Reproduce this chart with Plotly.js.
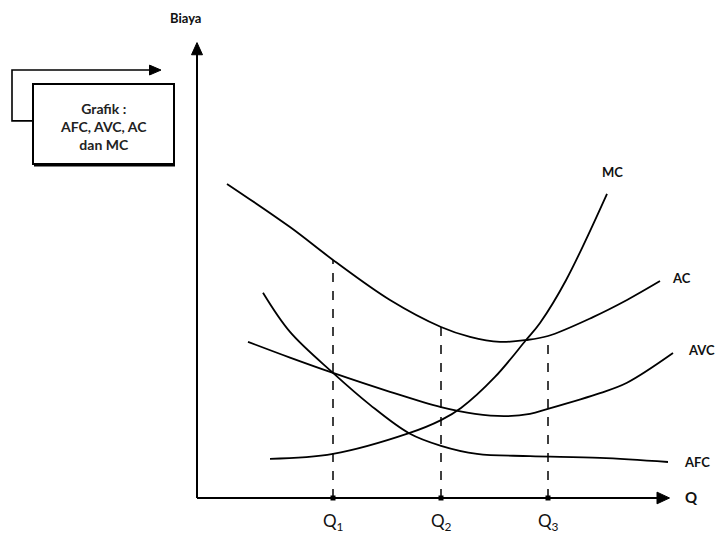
<!DOCTYPE html>
<html>
<head>
<meta charset="utf-8">
<script src="https://cdn.plot.ly/plotly-3.0.1.min.js"></script>
<style>html,body{margin:0;padding:0;background:#fff;}#chart{width:720px;height:533px;}</style>
</head>
<body>
<div id="chart"></div>
<script>
// Quantity (Q) and cost (Biaya) values
const acQ   = [0.60, 1.86, 2.72, 3.86, 4.88, 5.46, 6.06, 6.58, 7.02, 7.92, 8.60, 9.26];
const acC   = [6.98, 6.02, 5.29, 4.40, 3.80, 3.58, 3.47, 3.51, 3.60, 4.02, 4.40, 4.82];
const avcQ  = [1.02, 1.86, 2.72, 3.86, 4.88, 5.56, 6.16, 6.66, 7.02, 8.06, 8.60, 9.52];
const avcC  = [3.47, 3.12, 2.78, 2.36, 2.02, 1.87, 1.82, 1.87, 1.98, 2.33, 2.56, 3.22];
const afcQ  = [1.32, 1.86, 2.72, 3.46, 4.24, 4.88, 5.60, 6.66, 8.06, 9.42];
const afcC  = [4.56, 3.69, 2.78, 2.07, 1.44, 1.16, 0.98, 0.93, 0.89, 0.80];
const mcQ   = [1.46, 2.72, 4.24, 4.88, 5.28, 5.96, 6.58, 6.86, 7.38, 8.20];
const mcC   = [0.87, 0.98, 1.44, 1.73, 2.00, 2.69, 3.51, 3.89, 4.84, 6.76];
const qNames = ["Q<sub>1</sub>", "Q<sub>2</sub>", "Q<sub>3</sub>"];
const qValues = [2.72, 4.88, 7.02];
const qTops   = [5.29, 3.80, 3.60];   // AC height at each marked quantity
const curveNames = ["MC", "AC", "AVC", "AFC"];
const labelQ = [8.30, 9.46, 9.78, 9.70];
const labelC = [7.24, 4.90, 3.30, 0.80];

const FONT = "Lato, 'Open Sans', sans-serif";
const lineStyle = {color: "#000", width: 1.8, shape: "spline", smoothing: 1};

const traces = [
  {x: acQ,  y: acC,  mode: "lines", line: lineStyle, hoverinfo: "skip"},
  {x: avcQ, y: avcC, mode: "lines", line: lineStyle, hoverinfo: "skip"},
  {x: afcQ, y: afcC, mode: "lines", line: lineStyle, hoverinfo: "skip"},
  {x: mcQ,  y: mcC,  mode: "lines", line: lineStyle, hoverinfo: "skip"},
  {x: qValues, y: qValues.map(() => 0), mode: "markers",
   marker: {symbol: "square", size: 5, color: "#000"}, hoverinfo: "skip"}
];

const shapes = [];
qValues.forEach((q, i) => {
  shapes.push({type: "line", xref: "x", yref: "y", x0: q, x1: q, y0: 0, y1: qTops[i],
               line: {color: "#000", width: 1.5, dash: "dash"}});
});
// axes
shapes.push({type: "line", xref: "x", yref: "y", x0: 0, x1: 0, y0: 0, y1: 9.9,
             line: {color: "#000", width: 2}});
shapes.push({type: "line", xref: "x", yref: "y", x0: 0, x1: 9.3, y0: 0, y1: 0,
             line: {color: "#000", width: 2}});
shapes.push({type: "path", xref: "x", yref: "y", fillcolor: "#000", line: {color: "#000", width: 1},
             path: "M -0.11 9.85 L 0.11 9.85 L 0 10.12 Z"});
shapes.push({type: "path", xref: "x", yref: "y", fillcolor: "#000", line: {color: "#000", width: 1},
             path: "M 9.2 0.13 L 9.2 -0.13 L 9.45 0 Z"});
// info box and its bent arrow
shapes.push({type: "rect", xref: "x", yref: "y", x0: -3.28, x1: -0.46, y0: 7.42, y1: 9.20,
             line: {color: "#000", width: 2}, fillcolor: "#fff"});
shapes.push({type: "line", xref: "x", yref: "y", x0: -3.26, x1: -0.44, y0: 7.40, y1: 7.40,
             line: {color: "#000", width: 3}});
shapes.push({type: "path", xref: "x", yref: "y",
             path: "M -3.28 8.38 L -3.70 8.38 L -3.70 9.51 L -0.90 9.51",
             line: {color: "#000", width: 1.6}});
shapes.push({type: "path", xref: "x", yref: "y", fillcolor: "#000", line: {color: "#000", width: 1},
             path: "M -0.95 9.62 L -0.95 9.40 L -0.72 9.51 Z"});

const annotations = [];
annotations.push({x: 9.72, y: 0.02, xref: "x", yref: "y", text: "<b>Q</b>", showarrow: false,
                  xanchor: "left", font: {family: FONT, size: 15, color: "#111"}});
annotations.push({x: -0.24, y: 10.67, xref: "x", yref: "y", text: "<b>Biaya</b>", showarrow: false,
                  font: {family: FONT, size: 13, color: "#111"}});
annotations.push({x: -1.88, y: 8.25, xref: "x", yref: "y",
                  text: "<b>Grafik :<br>AFC, AVC, AC<br>dan MC</b>", showarrow: false,
                  font: {family: FONT, size: 14, color: "#222"}});
qNames.forEach((n, i) => {
  annotations.push({x: qValues[i], y: -0.53, xref: "x", yref: "y", text: n, showarrow: false,
                    font: {family: FONT, size: 17, color: "#111"}});
});
curveNames.forEach((n, i) => {
  annotations.push({x: labelQ[i], y: labelC[i], xref: "x", yref: "y", text: "<b>" + n + "</b>",
                    showarrow: false, xanchor: i === 0 ? "center" : "left",
                    font: {family: FONT, size: 13, color: "#111"}});
});

const layout = {
  width: 720, height: 533,
  margin: {l: 0, r: 0, t: 0, b: 0},
  paper_bgcolor: "#fff", plot_bgcolor: "#fff",
  showlegend: false,
  xaxis: {range: [-3.94, 10.46], showgrid: false, zeroline: false, showticklabels: false,
          showline: false, ticks: "", fixedrange: true},
  yaxis: {range: [-0.778, 11.067], showgrid: false, zeroline: false, showticklabels: false,
          showline: false, ticks: "", fixedrange: true},
  shapes: shapes,
  annotations: annotations
};

Plotly.newPlot("chart", traces, layout, {displayModeBar: false, staticPlot: true});
</script>
</body>
</html>
